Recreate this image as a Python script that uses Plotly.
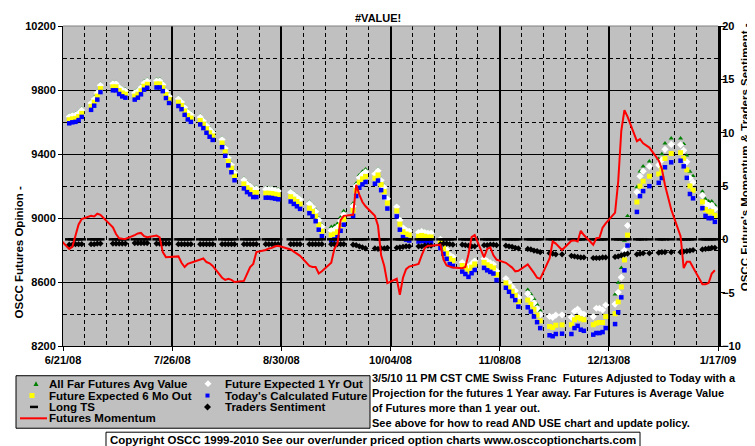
import plotly.graph_objects as go

# ---------------- data ----------------
dates = [
    "2008-06-23", "2008-06-24", "2008-06-25", "2008-06-26", "2008-06-27",
    "2008-06-30", "2008-07-01", "2008-07-02", "2008-07-03",
    "2008-07-07", "2008-07-08", "2008-07-09", "2008-07-10", "2008-07-11",
    "2008-07-14", "2008-07-15", "2008-07-16", "2008-07-17", "2008-07-18",
    "2008-07-21", "2008-07-22", "2008-07-23", "2008-07-24", "2008-07-25",
    "2008-07-28", "2008-07-29", "2008-07-30", "2008-07-31", "2008-08-01",
    "2008-08-04", "2008-08-05", "2008-08-06", "2008-08-07", "2008-08-08",
    "2008-08-11", "2008-08-12", "2008-08-13", "2008-08-14", "2008-08-15",
    "2008-08-18", "2008-08-19", "2008-08-20", "2008-08-21", "2008-08-22",
    "2008-08-25", "2008-08-26", "2008-08-27", "2008-08-28", "2008-08-29",
    "2008-09-02", "2008-09-03", "2008-09-04", "2008-09-05",
    "2008-09-08", "2008-09-09", "2008-09-10", "2008-09-11", "2008-09-12",
    "2008-09-15", "2008-09-16", "2008-09-17", "2008-09-18", "2008-09-19",
    "2008-09-22", "2008-09-23", "2008-09-24", "2008-09-25", "2008-09-26",
    "2008-09-29", "2008-09-30", "2008-10-01", "2008-10-02", "2008-10-03",
    "2008-10-06", "2008-10-07", "2008-10-08", "2008-10-09", "2008-10-10",
    "2008-10-13", "2008-10-14", "2008-10-15", "2008-10-16", "2008-10-17",
    "2008-10-20", "2008-10-21", "2008-10-22", "2008-10-23", "2008-10-24",
    "2008-10-27", "2008-10-28", "2008-10-29", "2008-10-30", "2008-10-31",
    "2008-11-03", "2008-11-04", "2008-11-05", "2008-11-06", "2008-11-07",
    "2008-11-10", "2008-11-11", "2008-11-12", "2008-11-13", "2008-11-14",
    "2008-11-17", "2008-11-18", "2008-11-19", "2008-11-20", "2008-11-21",
    "2008-11-24", "2008-11-25", "2008-11-26", "2008-11-28",
    "2008-12-01", "2008-12-02", "2008-12-03", "2008-12-04", "2008-12-05",
    "2008-12-08", "2008-12-09", "2008-12-10", "2008-12-11", "2008-12-12",
    "2008-12-15", "2008-12-16", "2008-12-17", "2008-12-18", "2008-12-19",
    "2008-12-22", "2008-12-23", "2008-12-24", "2008-12-26",
    "2008-12-29", "2008-12-30", "2008-12-31", "2009-01-02",
    "2009-01-05", "2009-01-06", "2009-01-07", "2009-01-08", "2009-01-09",
    "2009-01-12", "2009-01-13", "2009-01-14", "2009-01-15", "2009-01-16",
]

todays_calculated = [
    9592, 9598, 9601, 9612, 9632,
    9676, 9702, 9740, 9787,
    9798, 9798, 9775, 9760, 9752,
    9740, 9752, 9773, 9802, 9814,
    9816, 9816, 9793, 9750, 9719,
    9700, 9680, 9645, 9616, 9601,
    9585, 9562, 9533, 9508, 9488,
    9443, 9389, 9329, 9286, 9236,
    9185, 9162, 9148, 9131, 9131,
    9127, 9127, 9125, 9121, 9117,
    9103, 9088, 9073, 9057,
    9030, 9010, 8980, 8927, 8886,
    8860, 8866, 8880, 8920, 8958,
    9012, 9137, 9189, 9210, 9225,
    9214, 9234, 9174, 9130, 9059,
    9010, 8927, 8880, 8865, 8859,
    8853, 8858, 8853, 8848, 8848,
    8811, 8776, 8745, 8712, 8700,
    8665, 8650, 8632, 8655, 8675,
    8688, 8673, 8663, 8653, 8611,
    8564, 8539, 8512, 8487, 8446,
    8442, 8415, 8384, 8349, 8312,
    8267, 8261, 8275, 8277,
    8275, 8312, 8326, 8302, 8295,
    8271, 8281, 8281, 8287, 8312,
    8337, 8411, 8504, 8673, 8828,
    9038, 9137, 9168, 9199,
    9220, 9250, 9317, 9348,
    9358, 9323, 9251, 9150, 9123,
    9061, 9013, 8999, 8999, 8976,
]

expected_6mo = [
    9614, 9620, 9623, 9634, 9654,
    9698, 9724, 9762, 9809,
    9820, 9820, 9797, 9782, 9774,
    9762, 9774, 9795, 9824, 9836,
    9838, 9838, 9815, 9772, 9741,
    9724, 9704, 9669, 9640, 9625,
    9610, 9587, 9558, 9533, 9513,
    9469, 9415, 9355, 9312, 9262,
    9213, 9190, 9176, 9159, 9159,
    9155, 9155, 9153, 9149, 9145,
    9133, 9118, 9103, 9087,
    9062, 9042, 9012, 8959, 8918,
    8894, 8900, 8914, 8954, 8992,
    9047, 9172, 9224, 9245, 9260,
    9249, 9269, 9209, 9165, 9094,
    9045, 8962, 8915, 8900, 8894,
    8886, 8891, 8886, 8881, 8881,
    8846, 8811, 8780, 8747, 8735,
    8703, 8688, 8670, 8693, 8713,
    8723, 8708, 8698, 8688, 8646,
    8594, 8569, 8542, 8517, 8476,
    8487, 8460, 8429, 8394, 8357,
    8322, 8316, 8330, 8332,
    8333, 8364, 8378, 8370, 8364,
    8333, 8343, 8347, 8347, 8384,
    8402, 8476, 8569, 8738, 8893,
    9100, 9199, 9230, 9261,
    9275, 9305, 9372, 9403,
    9408, 9373, 9301, 9200, 9173,
    9101, 9053, 9039, 9039, 9016,
]

expected_1yr = [
    9634, 9640, 9643, 9654, 9674,
    9718, 9744, 9782, 9829,
    9840, 9840, 9817, 9802, 9794,
    9782, 9794, 9815, 9844, 9856,
    9858, 9858, 9835, 9792, 9761,
    9745, 9725, 9690, 9661, 9646,
    9630, 9607, 9578, 9553, 9533,
    9490, 9436, 9376, 9333, 9283,
    9237, 9214, 9200, 9183, 9183,
    9179, 9179, 9177, 9173, 9169,
    9161, 9146, 9131, 9115,
    9090, 9070, 9040, 8987, 8946,
    8922, 8928, 8942, 8982, 9020,
    9074, 9199, 9251, 9272, 9287,
    9276, 9296, 9236, 9192, 9121,
    9070, 8987, 8940, 8925, 8919,
    8911, 8916, 8911, 8906, 8906,
    8869, 8834, 8803, 8770, 8758,
    8723, 8708, 8690, 8713, 8733,
    8746, 8731, 8721, 8711, 8669,
    8622, 8597, 8570, 8545, 8504,
    8527, 8500, 8469, 8434, 8397,
    8385, 8379, 8393, 8395,
    8380, 8417, 8431, 8407, 8400,
    8384, 8436, 8436, 8425, 8456,
    8462, 8536, 8629, 8798, 8953,
    9162, 9261, 9292, 9323,
    9332, 9362, 9429, 9460,
    9458, 9423, 9351, 9250, 9223,
    9141, 9093, 9079, 9079, 9056,
]

far_futures_avg = [
    9644, 9650, 9653, 9664, 9684,
    9728, 9754, 9792, 9839,
    9850, 9850, 9827, 9812, 9804,
    9792, 9804, 9825, 9854, 9866,
    9868, 9868, 9845, 9802, 9771,
    9755, 9735, 9700, 9671, 9656,
    9640, 9617, 9588, 9563, 9543,
    9500, 9446, 9386, 9343, 9293,
    9247, 9224, 9210, 9193, 9193,
    9189, 9189, 9187, 9183, 9179,
    9171, 9156, 9141, 9125,
    9102, 9082, 9052, 8999, 8958,
    8945, 8951, 8965, 9005, 9043,
    9092, 9217, 9269, 9290, 9305,
    9286, 9306, 9246, 9202, 9131,
    9078, 8995, 8948, 8933, 8927,
    8918, 8923, 8918, 8913, 8913,
    8877, 8842, 8811, 8778, 8766,
    8730, 8715, 8697, 8720, 8740,
    8753, 8738, 8728, 8718, 8676,
    8628, 8603, 8576, 8551, 8510,
    8552, 8525, 8494, 8459, 8422,
    8391, 8385, 8399, 8401,
    8387, 8424, 8438, 8414, 8407,
    8390, 8442, 8442, 8431, 8462,
    8522, 8596, 8689, 8858, 9013,
    9193, 9292, 9323, 9354,
    9370, 9400, 9467, 9498,
    9498, 9463, 9391, 9290, 9263,
    9166, 9118, 9104, 9104, 9081,
]

long_ts = [0] * len(dates)

traders_sentiment = [
    -0.5, -0.5, -0.45, -0.45, -0.45,
    -0.45, -0.45, -0.4, -0.4,
    -0.4, -0.4, -0.4, -0.4, -0.4,
    -0.35, -0.35, -0.35, -0.35, -0.35,
    -0.4, -0.4, -0.4, -0.4, -0.4,
    -0.45, -0.45, -0.45, -0.45, -0.45,
    -0.45, -0.45, -0.45, -0.45, -0.45,
    -0.45, -0.45, -0.45, -0.45, -0.45,
    -0.45, -0.45, -0.45, -0.45, -0.45,
    -0.45, -0.45, -0.45, -0.45, -0.45,
    -0.45, -0.45, -0.45, -0.45,
    -0.45, -0.45, -0.45, -0.45, -0.45,
    -0.45, -0.45, -0.45, -0.45, -0.45,
    -0.5, -0.55, -0.65, -0.75, -0.85,
    -0.85, -0.9, -0.85, -0.85, -0.8,
    -0.8, -0.75, -0.7, -0.65, -0.65,
    -0.65, -0.65, -0.6, -0.6, -0.6,
    -0.45, -0.4, -0.4, -0.45, -0.5,
    -0.5, -0.55, -0.6, -0.65, -0.65,
    -0.55, -0.55, -0.5, -0.5, -0.55,
    -0.6, -0.65, -0.7, -0.8, -0.85,
    -0.9, -0.95, -1.05, -1.1, -1.2,
    -1.3, -1.35, -1.4, -1.4,
    -1.55, -1.6, -1.65, -1.7, -1.7,
    -1.75, -1.75, -1.75, -1.7, -1.7,
    -1.65, -1.6, -1.5, -1.4, -1.35,
    -1.4, -1.35, -1.3, -1.3,
    -1.25, -1.2, -1.2, -1.2,
    -1.2, -1.15, -1.1, -1.05, -1.0,
    -0.95, -0.9, -0.85, -0.8, -0.8,
]

momentum_dates = ["2008-06-20"] + dates
futures_momentum = [
    0.0,
    -0.9, -0.7, 0.4, 1.4, 1.9,
    2.2, 2.15, 2.4, 2.3,
    1.12, 0.5, 0.1, 0.05, 0.03,
    0.4, 0.55, 0.6, 0.3, 0.2,
    0.35, 0.19, -1.2, -1.67, -1.67,
    -1.6, -2.2, -2.6, -2.3, -2.2,
    -1.9, -1.8, -2.13, -2.25, -2.5,
    -3.6, -3.8, -3.7, -3.8, -4.0,
    -3.9, -3.2, -2.6, -2.3, -1.2,
    -1.0, -0.85, -0.8, -0.65, -0.6,
    -0.95, -1.15, -1.35, -1.55,
    -2.5, -2.6, -2.6, -3.2, -3.0,
    -2.2, -0.9, -0.4, 1.8, 2.2,
    2.3, 5.1, 4.2, 3.5, 3.1,
    2.2, 1.27, -1.5, -2.5, -4.1,
    -3.7, -5.2, -3.6, -2.8, -2.55,
    -2.3, -1.5, -0.8, -0.6, -0.6,
    -0.5, -1.9, -2.45, -2.55, -2.65,
    -2.7, -2.6, -1.4, 0.2, 0.4,
    -1.7, -0.9, -0.75, -1.5, -1.9,
    -2.2, -2.4, -2.65, -3.0, -2.95,
    -2.35, -2.7, -3.15, -3.6, -3.7,
    -1.8, -0.2, -0.4, -1.0,
    -0.13, -0.1, -0.2, 0.8, 0.4,
    -0.5, 0.1, 0.15, 1.1, 1.5,
    2.5, 5.4, 10.2, 12.1, 11.5,
    9.2, 9.4, 9.0, 8.6,
    7.4, 6.6, 5.1, 2.8,
    0.3, -2.7, -2.1, -2.1, -2.6,
    -4.2, -4.2, -4.1, -3.2, -2.9,
]

x_tick_dates = ["2008-06-21", "2008-07-26", "2008-08-30", "2008-10-04",
                "2008-11-08", "2008-12-13", "2009-01-17"]
x_tick_labels = ["6/21/08", "7/26/08", "8/30/08", "10/04/08",
                 "11/08/08", "12/13/08", "1/17/09"]
left_ticks = [8200, 8600, 9000, 9400, 9800, 10200]
left_minor = [8400, 8800, 9200, 9600, 10000]
right_ticks = [-10, -5, 0, 5, 10, 15, 20]

title_text = "#VALUE!"
left_title = "OSCC Futures Opinion -"
right_title = "OSCC Future's Momentum & Traders Sentiment -"
note_lines = [
    "3/5/10 11 PM CST CME Swiss Franc \u00a0Futures Adjusted to Today with a",
    "Projection for the futures 1 Year away. Far Futures is Average Value",
    "of Futures more than 1 year out.",
    "See above for how to read AND USE chart and update policy.",
]
copyright_text = ("Copyright OSCC 1999-2010 See our over/under priced option "
                  "charts www.osccoptioncharts.com")

# ---------------- layout helpers ----------------
W, H = 755, 446
L, R, T, B = 55, 45, 15, 108
PW, PH = W - L - R, H - T - B
FONT = "Liberation Sans, Arial, sans-serif"
TXT = 11.5


def px(x):
    return (x - L) / PW


def py(y):
    return (T + PH - y) / PH


fig = go.Figure()

# left-axis series
fig.add_trace(go.Scatter(x=dates, y=far_futures_avg, mode="markers",
                         name="All Far Futures Avg Value",
                         marker=dict(symbol="triangle-up", size=4.5, color="#008000",
                                     line=dict(width=0))))
fig.add_trace(go.Scatter(x=dates, y=expected_1yr, mode="markers",
                         name="Future Expected 1 Yr Out",
                         marker=dict(symbol="diamond", size=5.5, color="#FFFFFF",
                                     line=dict(width=0))))
fig.add_trace(go.Scatter(x=dates, y=expected_6mo, mode="markers",
                         name="Future Expected 6 Mo Out",
                         marker=dict(symbol="square", size=5, color="#FFFF00",
                                     line=dict(width=0))))
fig.add_trace(go.Scatter(x=dates, y=todays_calculated, mode="markers",
                         name="Today's Calculated Future",
                         marker=dict(symbol="square", size=4.5, color="#0000FF",
                                     line=dict(width=0))))
# right-axis series
fig.add_trace(go.Scatter(x=dates, y=long_ts, mode="markers", yaxis="y2",
                         name="Long TS",
                         marker=dict(symbol="line-ew", size=6, color="black",
                                     line=dict(width=2.5, color="black"))))
fig.add_trace(go.Scatter(x=dates, y=traders_sentiment, mode="markers", yaxis="y2",
                         name="Traders Sentiment",
                         marker=dict(symbol="diamond", size=4.8, color="black",
                                     line=dict(width=0))))
fig.add_trace(go.Scatter(x=momentum_dates, y=futures_momentum, mode="lines",
                         yaxis="y2", name="Futures Momentum",
                         line=dict(color="#FF0000", width=2)))

tickfont = dict(family=FONT, size=11, color="black", weight="bold")

fig.update_layout(
    width=W, height=H,
    margin=dict(l=L, r=R, t=T, b=B, pad=0),
    paper_bgcolor="white", plot_bgcolor="#C0C0C0",
    showlegend=False,
    font=dict(family=FONT, size=11, color="black"),
    xaxis=dict(type="date", range=["2008-06-21", "2009-01-17"],
               tickvals=x_tick_dates, ticktext=x_tick_labels, tickfont=tickfont,
               ticks="outside", ticklen=4, tickcolor="black", tickwidth=1,
               showline=True, linecolor="black", linewidth=1,
               showgrid=True, gridcolor="black", gridwidth=2,
               zeroline=False,
               minor=dict(dtick=7 * 86400000, tick0="2008-06-21", showgrid=True,
                          gridcolor="black", gridwidth=1, griddash="4px,3px",
                          ticks="")),
    yaxis=dict(range=[8200, 10200], tickvals=left_ticks, tickformat="d",
               tickfont=tickfont,
               ticks="outside", ticklen=4, tickcolor="black",
               showline=True, linecolor="black", linewidth=1,
               showgrid=True, gridcolor="black", gridwidth=1.3, zeroline=False,
               minor=dict(tickvals=left_minor, showgrid=True, gridcolor="black",
                          gridwidth=1, griddash="4px,3px", ticks="")),
    yaxis2=dict(range=[-10, 20], tickvals=right_ticks, tickformat="d",
                overlaying="y", side="right",
                tickfont=tickfont, ticks="outside", ticklen=4, tickcolor="black",
                ticklabelstandoff=-5,
                showline=True, linecolor="black", linewidth=3,
                showgrid=False, zeroline=False),
)

shapes = []
annotations = []

# top border of plot area
shapes.append(dict(type="line", xref="paper", yref="paper", x0=0, x1=1, y0=1, y1=1,
                   line=dict(color="#808080", width=1)))

# titles
annotations.append(dict(text=title_text, xref="paper", yref="paper",
                        x=px(370), y=py(7), showarrow=False,
                        xanchor="center", yanchor="middle",
                        font=dict(family=FONT, size=11, weight="bold")))
annotations.append(dict(text=left_title, xref="paper", yref="paper",
                        x=px(11), y=py(243.5), showarrow=False, textangle=-90,
                        xanchor="center", yanchor="middle",
                        font=dict(family=FONT, size=11.5, weight="bold")))
annotations.append(dict(text=right_title, xref="paper", yref="paper",
                        x=px(737), y=py(147.5), showarrow=False, textangle=-90,
                        xanchor="center", yanchor="middle",
                        font=dict(family=FONT, size=11.5, weight="bold")))

# legend box
shapes.append(dict(type="rect", xref="paper", yref="paper",
                   x0=px(8), x1=px(362), y0=py(421), y1=py(368),
                   fillcolor="#C0C0C0", line=dict(color="black", width=1)))


def tri(cx, cy, s):
    return (f"M {px(cx - s)} {py(cy + s)} L {px(cx + s)} {py(cy + s)} "
            f"L {px(cx)} {py(cy - s)} Z")


def dia(cx, cy, s):
    return (f"M {px(cx - s)} {py(cy)} L {px(cx)} {py(cy - s)} "
            f"L {px(cx + s)} {py(cy)} L {px(cx)} {py(cy + s)} Z")


def sq(cx, cy, s):
    return dict(type="rect", xref="paper", yref="paper",
                x0=px(cx - s), x1=px(cx + s), y0=py(cy + s), y1=py(cy - s))


rows = [376, 388, 399.5, 411]
shapes.append(dict(type="path", xref="paper", yref="paper", path=tri(28, rows[0], 2.5),
                   fillcolor="#008000", line=dict(width=0)))
s = sq(24, rows[1], 2.5); s.update(fillcolor="#FFFF00", line=dict(width=0)); shapes.append(s)
shapes.append(dict(type="line", xref="paper", yref="paper",
                   x0=px(22), x1=px(30), y0=py(rows[2]), y1=py(rows[2]),
                   line=dict(color="black", width=2.5)))
shapes.append(dict(type="line", xref="paper", yref="paper",
                   x0=px(12), x1=px(39), y0=py(rows[3]), y1=py(rows[3]),
                   line=dict(color="#FF0000", width=2)))
shapes.append(dict(type="path", xref="paper", yref="paper", path=dia(200, rows[0], 3.5),
                   fillcolor="#FFFFFF", line=dict(width=0)))
s = sq(199.5, rows[1], 2); s.update(fillcolor="#0000FF", line=dict(width=0)); shapes.append(s)
shapes.append(dict(type="path", xref="paper", yref="paper", path=dia(199.5, rows[2], 3.5),
                   fillcolor="black", line=dict(width=0)))

legend_left = ["All Far Futures Avg Value", "Future Expected 6 Mo Out", "Long TS",
               "Futures Momentum"]
legend_right = ["Future Expected 1 Yr Out", "Today's Calculated Future",
                "Traders Sentiment"]
for i, t in enumerate(legend_left):
    annotations.append(dict(text=t, xref="paper", yref="paper", x=px(39), y=py(rows[i]),
                            showarrow=False, xanchor="left", yanchor="middle",
                            font=dict(family=FONT, size=TXT, weight="bold")))
for i, t in enumerate(legend_right):
    annotations.append(dict(text=t, xref="paper", yref="paper", x=px(215), y=py(rows[i]),
                            showarrow=False, xanchor="left", yanchor="middle",
                            font=dict(family=FONT, size=TXT, weight="bold")))

# note text block
for i, (t, yy) in enumerate(zip(note_lines, [370, 385, 400.5, 415.5])):
    annotations.append(dict(text=t, xref="paper", yref="paper", x=px(362), y=py(yy),
                            showarrow=False, xanchor="left", yanchor="middle",
                            font=dict(family=FONT, size=11, weight="bold")))

# copyright box
shapes.append(dict(type="rect", xref="paper", yref="paper",
                   x0=px(98), x1=px(632), y0=py(441.5), y1=py(425),
                   fillcolor="white", line=dict(color="black", width=1)))
annotations.append(dict(text=copyright_text, xref="paper", yref="paper",
                        x=px(365), y=py(433), showarrow=False,
                        xanchor="center", yanchor="middle",
                        font=dict(family=FONT, size=TXT, weight="bold")))

fig.update_layout(shapes=shapes, annotations=annotations)

fig.write_html("out.html")
